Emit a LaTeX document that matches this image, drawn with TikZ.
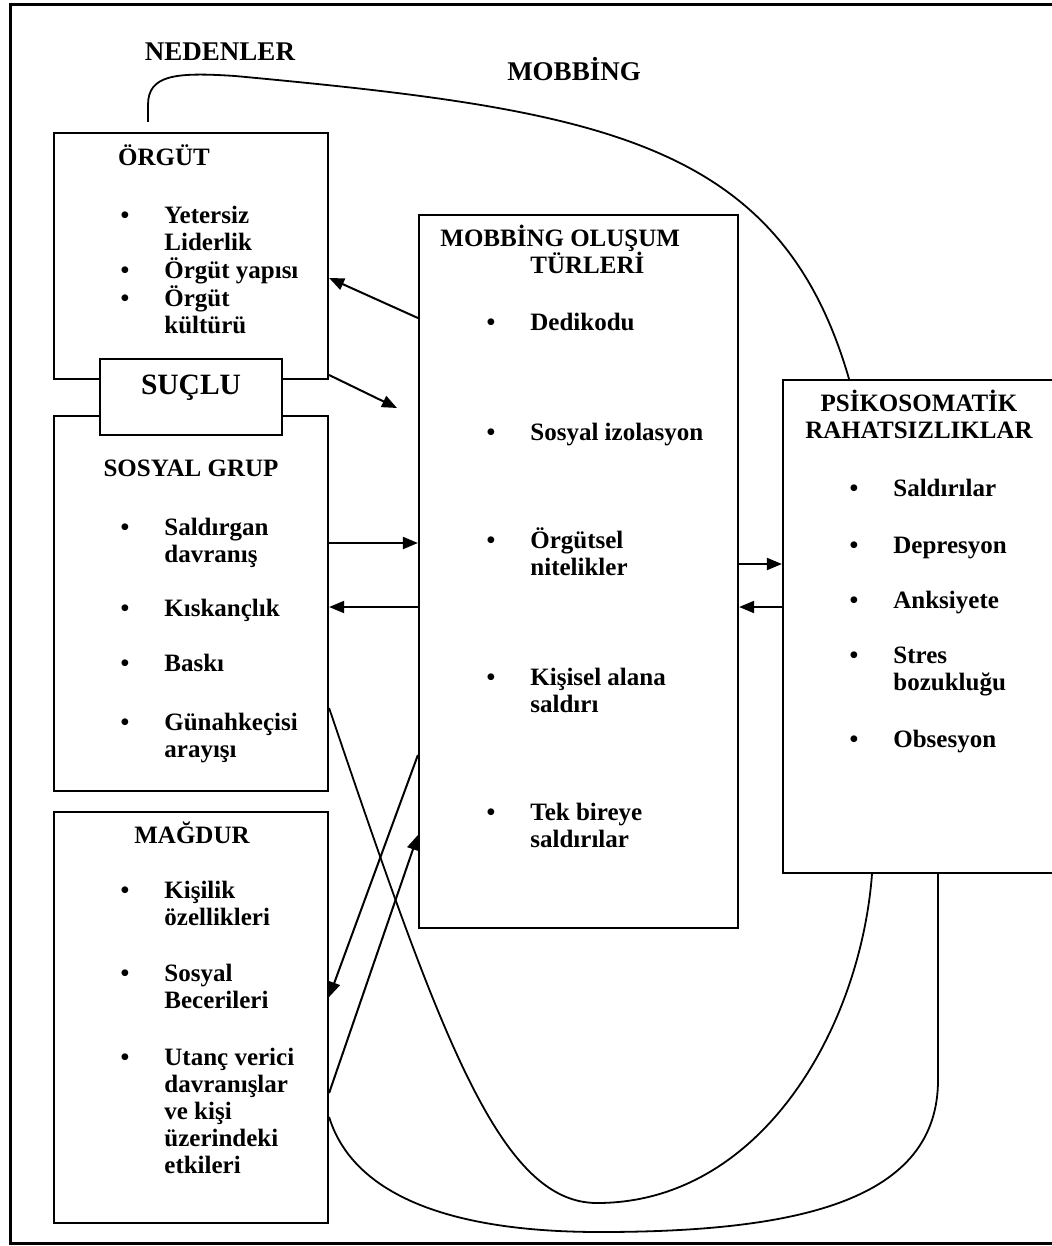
\documentclass[tikz,border=0pt]{standalone}
\usepackage{fontspec}
\setmainfont{Liberation Serif}
\usetikzlibrary{arrows.meta,fit}
\newcommand{\bodyfont}{\fontsize{12.5}{13.5}\selectfont\bfseries\lineskiplimit=-20pt\relax}
\newcommand{\fs}{\rule{0pt}{12pt}}
\newcommand{\bul}{\llap{\textbullet\hspace{17.5pt}}}
\begin{document}
\begin{tikzpicture}[x=0.5pt,y=-0.5pt,
 box/.style={draw, line width=1.1pt, inner sep=0pt},
 item/.style={font=\bodyfont, align=left, anchor=north west, inner sep=0pt, yshift=8pt},
 ttl/.style={font=\bodyfont, align=center, anchor=north, inner sep=0pt, yshift=8pt},
 arr/.style={line width=1pt, -{Triangle[length=7.5pt,width=6pt]}},
 crv/.style={line width=0.9pt},
]
\useasboundingbox (0,0) rectangle (1052,1246);
\clip (0,0) rectangle (1052,1246);
\draw[line width=1.5pt] (10,5) rectangle (1080,1243);

% headings
\node[font=\fontsize{13.5}{15}\selectfont\bfseries, anchor=base, inner sep=0pt] (ned) at (220,61) {NEDENLER};
\node[font=\fontsize{13.5}{15}\selectfont\bfseries, anchor=base, inner sep=0pt] (mobh) at (574,81) {MOBBİNG};

% boxes
\node[box, fit={(54,133) (328,379)}] (org) {};
\node[box, fit={(54,416) (328,791)}] (sos) {};
\node[box, fill=white, fit={(100,359) (282,435)}] (suc) {};
\node[box, fit={(54,812) (328,1223)}] (mag) {};
\node[box, fit={(419,215) (738,928)}] (mob) {};
\node[box, fit={(783,380) (1070,873)}] (psi) {};

% SUÇLU
\node[font=\fontsize{14.75}{16}\selectfont\bfseries, anchor=base, inner sep=0pt] (suclbl) at (191,394) {SUÇLU};

% ÖRGÜT
\node[ttl] (orgt) at (164,157) {\fs ÖRGÜT};
\node[item] (o1) at (164,215) {\fs\bul Yetersiz\\Liderlik};
\node[item] (o2) at (164,270) {\fs\bul Örgüt yapısı};
\node[item] (o3) at (164,298) {\fs\bul Örgüt\\kültürü};

% SOSYAL GRUP
\node[ttl] (sost) at (191,468) {\fs SOSYAL GRUP};
\node[item] (s1) at (164,527) {\fs\bul Saldırgan\\davranış};
\node[item] (s2) at (164,608) {\fs\bul Kıskançlık};
\node[item] (s3) at (164,663) {\fs\bul Baskı};
\node[item] (s4) at (164,722) {\fs\bul Günahkeçisi\\arayışı};

% MAĞDUR
\node[ttl] (magt) at (192,835) {\fs MAĞDUR};
\node[item] (m1) at (164,890) {\fs\bul Kişilik\\özellikleri};
\node[item] (m2) at (164,973) {\fs\bul Sosyal\\Becerileri};
\node[item] (m3) at (164,1057) {\fs\bul Utanç verici\\davranışlar\\ve kişi\\üzerindeki\\etkileri};

% MOBBİNG OLUŞUM TÜRLERİ
\node[item] (mobt) at (440,238) {\fs MOBBİNG OLUŞUM\\\hspace*{45pt}TÜRLERİ};
\node[item] (b1) at (530,322) {\fs\bul Dedikodu};
\node[item] (b2) at (530,432) {\fs\bul Sosyal izolasyon};
\node[item] (b3) at (530,540) {\fs\bul Örgütsel\\nitelikler};
\node[item] (b4) at (530,677) {\fs\bul Kişisel alana\\saldırı};
\node[item] (b5) at (530,812) {\fs\bul Tek bireye\\saldırılar};

% PSİKOSOMATİK
\node[ttl] (psit) at (919,403) {\fs PSİKOSOMATİK\\RAHATSIZLIKLAR};
\node[item] (p1) at (893,488) {\fs\bul Saldırılar};
\node[item] (p2) at (893,545) {\fs\bul Depresyon};
\node[item] (p3) at (893,600) {\fs\bul Anksiyete};
\node[item] (p4) at (893,655) {\fs\bul Stres\\bozukluğu};
\node[item] (p5) at (893,739) {\fs\bul Obsesyon};

% free ends
\coordinate (a2) at (397,408);
\coordinate (topstart) at (148,122);

% arrows
\draw[arr] (mob.west |- 0,318) -- (org.east |- 0,278);
\draw[arr] (org.east |- 0,375) -- (a2);
\draw[arr] (sos.east |- 0,543) -- (mob.west |- 0,543);
\draw[arr] (mob.west |- 0,607) -- (sos.east |- 0,607);
\draw[arr] (mob.east |- 0,564) -- (psi.west |- 0,564);
\draw[arr] (psi.west |- 0,607) -- (mob.east |- 0,607);
\draw[arr] (mob.west |- 0,755) -- (mag.east |- 0,997);
\draw[arr] (mag.east |- 0,1093) -- (mob.west |- 0,835);

% curves
\draw[crv] (topstart) -- (148,105) .. controls (148,75) and (175,72) .. (235,76)
  .. controls (600,110) and (780,140) .. (psi.north -| 849,0);
\draw[crv] (sos.east |- 0,708) .. controls (441,1038) and (500,1203) .. (597,1203)
  .. controls (760,1203) and (860,1030) .. (psi.south -| 872,0);
\draw[crv] (mag.east |- 0,1117) .. controls (350,1185) and (430,1232) .. (600,1232)
  .. controls (800,1232) and (938,1200) .. (938,1080) -- (psi.south -| 938,0);
\end{tikzpicture}
\end{document}
